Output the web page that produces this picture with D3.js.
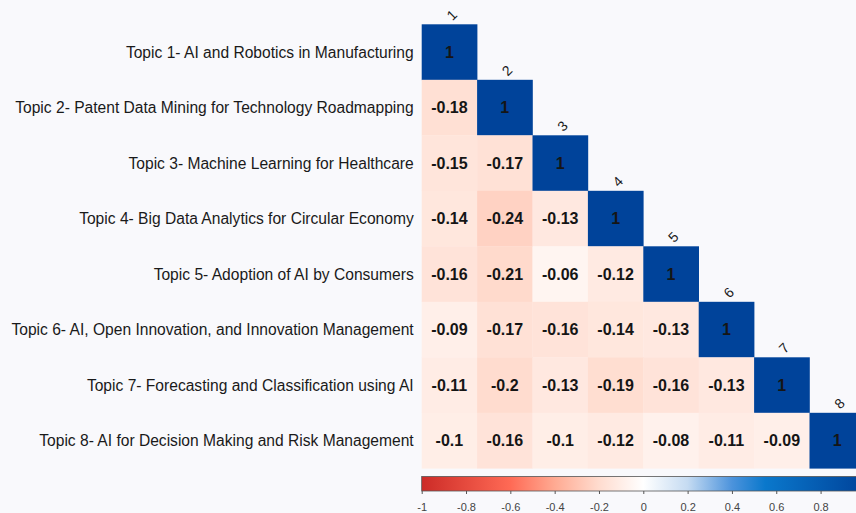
<!DOCTYPE html>
<html lang="en">
<head>
  <meta charset="UTF-8">
  <title>Topic correlation</title>
  <style>
    body { margin: 0; background: #f9f9fc; }
    svg { display: block; background: #f9f9fc; }
    .row-label { font-family: "Liberation Sans", Arial, sans-serif; font-size: 15.6px; fill: #1a1a1a; }
    .col-label { font-family: "Liberation Sans", Arial, sans-serif; font-size: 14px; fill: #1a1a1a; }
    .cell-text { font-family: "Liberation Sans", Arial, sans-serif; font-size: 16px; font-weight: bold; fill: #151515; }
  </style>
</head>
<body>
  <svg id="chart" width="856" height="513"></svg>
  <script src="https://cdn.jsdelivr.net/npm/d3@7"></script>
  <script>
    // topic names (rows) and short column labels
    const topics = [
      'Topic 1- AI and Robotics in Manufacturing',
      'Topic 2- Patent Data Mining for Technology Roadmapping',
      'Topic 3- Machine Learning for Healthcare',
      'Topic 4- Big Data Analytics for Circular Economy',
      'Topic 5- Adoption of AI by Consumers',
      'Topic 6- AI, Open Innovation, and Innovation Management',
      'Topic 7- Forecasting and Classification using AI',
      'Topic 8- AI for Decision Making and Risk Management'
    ]
    const colLabels = ['1', '2', '3', '4', '5', '6', '7', '8']

    // lower triangle, row by row (diagonal = 1)
    const row1 = [1]
    const row2 = [-0.18, 1]
    const row3 = [-0.15, -0.17, 1]
    const row4 = [-0.14, -0.24, -0.13, 1]
    const row5 = [-0.16, -0.21, -0.06, -0.12, 1]
    const row6 = [-0.09, -0.17, -0.16, -0.14, -0.13, 1]
    const row7 = [-0.11, -0.2, -0.13, -0.19, -0.16, -0.13, 1]
    const row8 = [-0.1, -0.16, -0.1, -0.12, -0.08, -0.11, -0.09, 1]
    const rows = [row1, row2, row3, row4, row5, row6, row7, row8]

    const legendTicks = [-1, -0.8, -0.6, -0.4, -0.2, 0, 0.2, 0.4, 0.6, 0.8]
    const paletteStops = [-1, -0.6, -0.4, -0.2, 0, 0.2, 0.4, 0.55, 1]
    const paletteColors = ['#cc2b27', '#ff6a55', '#ffaa92', '#ffdccf', '#ffffff', '#c5dbf2', '#4c93dc', '#0a78cc', '#00439a']

    const svg = d3.select('#chart')
    const gx0 = 421.7, gy0 = 24.3, cw = 55.4, ch = 55.5

    const x = d3.scaleBand().domain(d3.range(8)).range([gx0, gx0 + cw * 8])
    const y = d3.scaleBand().domain(d3.range(8)).range([gy0, gy0 + ch * 8])
    const color = d3.scaleLinear().domain(paletteStops).range(paletteColors)

    let cells = []
    rows.forEach((r, i) => r.forEach((v, j) => cells.push({i: i, j: j, v: v})))

    let g = svg.append('g')
    g.selectAll('.cell')
      .data(cells)
      .enter()
      .append('rect')
      .attr('class', 'cell')
      .attr('x', d => x(d.j))
      .attr('y', d => y(d.i))
      .attr('width', x.bandwidth() + 0.3)
      .attr('height', y.bandwidth() + 0.3)
      .attr('fill', d => color(d.v))

    g.selectAll('.cell-text')
      .data(cells)
      .enter()
      .append('text')
      .attr('class', 'cell-text')
      .attr('x', d => x(d.j) + x.bandwidth() / 2)
      .attr('y', d => y(d.i) + y.bandwidth() / 2)
      .attr('dy', '0.36em')
      .attr('text-anchor', 'middle')
      .text(d => d.v)

    // row labels
    svg.selectAll('.row-label')
      .data(topics)
      .enter()
      .append('text')
      .attr('class', 'row-label')
      .attr('x', gx0 - 8)
      .attr('y', (d, i) => y(i) + y.bandwidth() / 2)
      .attr('dy', '0.35em')
      .attr('text-anchor', 'end')
      .text(d => d)

    // rotated column labels on top of the diagonal
    svg.selectAll('.col-label')
      .data(colLabels)
      .enter()
      .append('text')
      .attr('class', 'col-label')
      .attr('transform', (d, i) => `translate(${x(i) + x.bandwidth() / 2 + 3},${y(i) - 3}) rotate(-45)`)
      .text(d => d)

    // colour legend
    const lx = d3.scaleLinear().domain([-1, 1]).range([gx0, gx0 + cw * 8])
    const defs = svg.append('defs')
    const grad = defs.append('linearGradient').attr('id', 'grad')
      .attr('gradientUnits', 'userSpaceOnUse')
      .attr('x1', lx(-1)).attr('x2', lx(1))
    grad.selectAll('stop')
      .data(paletteStops)
      .enter()
      .append('stop')
      .attr('offset', d => (d + 1) / 2)
      .attr('stop-color', (d, i) => paletteColors[i])

    const cbar = svg.append('g').attr('class', 'cbar')
    cbar.append('rect')
      .attr('x', lx(-1))
      .attr('y', 476.5)
      .attr('width', lx(1) - lx(-1))
      .attr('height', 14.5)
      .attr('fill', 'url(#grad)')
      .attr('stroke', '#555')
      .attr('stroke-width', 0.8)

    const axis = d3.axisBottom(lx)
      .tickValues(legendTicks)
      .tickSize(3)
      .tickPadding(9)
      .tickFormat(d => String(+d.toFixed(1)))
    cbar.append('g')
      .attr('transform', 'translate(0,491)')
      .call(axis)
      .call(a => a.select('.domain').remove())
      .call(a => a.selectAll('line').attr('stroke', '#555'))
      .call(a => a.selectAll('text').attr('font-size', 11).attr('font-family', '"Liberation Sans", Arial, sans-serif').attr('fill', '#444'))
  </script>
</body>
</html>
